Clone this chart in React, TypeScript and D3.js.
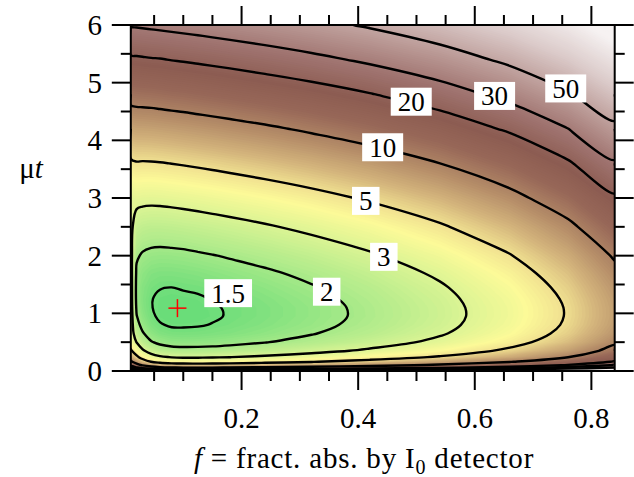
import React from 'react';
import * as d3 from 'd3';

// f = fraction absorbed by the I0 detector (grid columns)
const fValues = [0.01, 0.02, 0.03, 0.045, 0.06, 0.08, 0.1, 0.125, 0.15, 0.18, 0.24, 0.32, 0.42, 0.54, 0.66, 0.76, 0.84];

// mu*t of the sample (grid rows)
const mutValues = [0.01, 0.03, 0.06, 0.1, 0.16, 0.24, 0.35, 0.5, 0.65, 0.8, 0.95, 1.1, 1.25, 1.45, 1.7, 2.0, 2.5, 3.0, 3.6, 4.2, 4.8, 5.4, 6.0];

// relative noise, one row per mutValues entry
const noiseRows = [
  [166, 119, 91.7, 71.7, 63.1, 58.2, 56.3, 55.8, 56.2, 57.4, 61.1, 67.7, 79.0, 99.4, 134, 190, 285],
  [55.7, 40.0, 30.9, 24.2, 21.4, 19.7, 19.1, 19.0, 19.1, 19.5, 20.8, 23.0, 26.9, 33.8, 45.7, 64.7, 97.0],
  [28.1, 20.3, 15.7, 12.4, 10.9, 10.1, 9.82, 9.75, 9.83, 10.1, 10.7, 11.9, 13.9, 17.4, 23.6, 33.3, 50.0],
  [17.1, 12.4, 9.61, 7.62, 6.77, 6.28, 6.11, 6.07, 6.13, 6.27, 6.67, 7.40, 8.65, 10.9, 14.7, 20.8, 31.2],
  [10.9, 7.91, 6.21, 4.97, 4.43, 4.14, 4.03, 4.02, 4.06, 4.15, 4.42, 4.91, 5.74, 7.22, 9.76, 13.8, 20.7],
  [7.42, 5.46, 4.33, 3.50, 3.15, 2.96, 2.89, 2.89, 2.92, 2.99, 3.19, 3.54, 4.14, 5.21, 7.05, 9.98, 15.0],
  [5.28, 3.94, 3.16, 2.60, 2.36, 2.24, 2.20, 2.20, 2.23, 2.29, 2.44, 2.71, 3.17, 3.99, 5.39, 7.64, 11.5],
  [3.91, 2.97, 2.43, 2.04, 1.88, 1.79, 1.77, 1.78, 1.80, 1.85, 1.98, 2.20, 2.58, 3.24, 4.38, 6.21, 9.32],
  [3.60, 2.47, 2.06, 1.76, 1.64, 1.58, 1.57, 1.58, 1.61, 1.65, 1.77, 1.97, 2.30, 2.90, 3.92, 5.55, 8.33],
  [3.55, 2.19, 1.85, 1.62, 1.52, 1.47, 1.47, 1.48, 1.51, 1.56, 1.67, 1.86, 2.17, 2.74, 3.70, 5.24, 7.86],
  [3.50, 2.02, 1.74, 1.54, 1.46, 1.43, 1.43, 1.44, 1.47, 1.52, 1.63, 1.82, 2.12, 2.68, 3.62, 5.13, 7.69],
  [3.45, 1.92, 1.68, 1.51, 1.45, 1.42, 1.42, 1.44, 1.48, 1.52, 1.63, 1.82, 2.13, 2.69, 3.63, 5.14, 7.72],
  [3.42, 1.87, 1.66, 1.51, 1.46, 1.44, 1.45, 1.47, 1.51, 1.55, 1.67, 1.86, 2.18, 2.75, 3.71, 5.26, 7.89],
  [3.40, 1.86, 1.68, 1.56, 1.51, 1.50, 1.52, 1.54, 1.58, 1.63, 1.76, 1.96, 2.29, 2.89, 3.91, 5.54, 8.31],
  [3.35, 1.91, 1.76, 1.66, 1.63, 1.63, 1.65, 1.68, 1.73, 1.79, 1.92, 2.14, 2.51, 3.16, 4.28, 6.06, 9.10],
  [3.30, 2.07, 1.94, 1.87, 1.85, 1.86, 1.88, 1.93, 1.98, 2.05, 2.20, 2.46, 2.88, 3.63, 4.91, 6.96, 10.4],
  [3.25, 2.54, 2.45, 2.40, 2.40, 2.43, 2.47, 2.53, 2.60, 2.69, 2.90, 3.24, 3.80, 4.79, 6.48, 9.18, 13.8],
  [3.22, 3.33, 3.27, 3.25, 3.27, 3.32, 3.38, 3.47, 3.57, 3.70, 3.98, 4.45, 5.22, 6.58, 8.90, 12.6, 18.9],
  [4.73, 4.89, 4.86, 4.88, 4.93, 5.02, 5.12, 5.26, 5.41, 5.61, 6.05, 6.76, 7.92, 9.99, 13.5, 19.1, 28.7],
  [7.32, 7.50, 7.51, 7.57, 7.67, 7.82, 7.99, 8.21, 8.45, 8.76, 9.44, 10.6, 12.4, 15.6, 21.1, 29.9, 44.9],
  [11.6, 11.8, 11.9, 12.0, 12.2, 12.5, 12.7, 13.1, 13.5, 14.0, 15.1, 16.8, 19.7, 24.9, 33.7, 47.7, 71.5],
  [18.8, 19.0, 19.2, 19.5, 19.7, 20.2, 20.6, 21.2, 21.8, 22.6, 24.4, 27.3, 32.0, 40.3, 54.5, 77.2, 116],
  [30.8, 31.1, 31.4, 31.9, 32.4, 33.1, 33.8, 34.7, 35.8, 37.1, 40.0, 44.7, 52.4, 66.1, 89.4, 127, 190],
];

const contourLevels = [1.5, 2, 3, 5, 10, 20, 30, 50];

// where the level labels sit (data units)
const labelText = ['1.5', '2', '3', '5', '10', '20', '30', '50'];
const labelF = [0.177, 0.346, 0.444, 0.413, 0.442, 0.491, 0.634, 0.756];
const labelMut = [1.35, 1.375, 1.98, 2.95, 3.88, 4.67, 4.77, 4.9];

// optimum
const minF = 0.09;
const minMut = 1.09;

const xTickLabels = [0.2, 0.4, 0.6, 0.8];
const yTickLabels = [0, 1, 2, 3, 4, 5, 6];

// colour map along the noise value
const colorStopValues = [1.4, 1.75, 2.2, 3, 4, 5, 6.5, 9, 13, 18, 28, 45, 80, 150];
const colorStops = ['#64dc78', '#8ee482', '#b4ec8c', '#dcf494', '#fcfa98', '#f0e090', '#d4b47c', '#b48c68',
  '#986858', '#8c5c52', '#a07470', '#bc9c98', '#dccccb', '#f6f2f2'];

const font = "'Liberation Serif', 'Times New Roman', serif";

export default function App() {
  const width = 634;
  const height = 477;
  const left = 130.8, right = 614.7, top = 25, bottom = 371;

  const x = d3.scaleLinear().domain([0.01, 0.84]).range([left, right]);
  const y = d3.scaleLinear().domain([0, 6]).range([bottom, top]);

  const nx = fValues.length;
  const ny = mutValues.length;
  const logGrid = noiseRows.flat().map((v) => Math.log10(v));

  // grid index -> data value (uneven grid)
  const colAt = d3.scaleLinear().domain(d3.range(nx)).range(fValues).clamp(true);
  const rowAt = d3.scaleLinear().domain(d3.range(ny)).range(mutValues).clamp(true);
  const toPx = (p) => [x(colAt(p[0] - 0.5)), y(rowAt(p[1] - 0.5))];

  const projection = d3.geoTransform({
    point(gx, gy) {
      const q = toPx([gx, gy]);
      this.stream.point(q[0], q[1]);
    },
  });
  const geoPath = d3.geoPath(projection);

  const color = d3
    .scaleLinear()
    .domain(colorStopValues.map((v) => Math.log10(v)))
    .range(colorStops)
    .clamp(true);

  // background shading
  const lo = Math.log10(1.38);
  const hi = Math.log10(300);
  const steps = 180;
  const fillThresholds = d3.range(steps).map((i) => lo + ((hi - lo) * i) / steps);
  const bands = d3.contours().size([nx, ny]).thresholds(fillThresholds)(logGrid);
  const half = (hi - lo) / steps / 2;

  // contour lines, border runs removed
  const lines = d3.contours().size([nx, ny]).thresholds(contourLevels.map((v) => Math.log10(v)))(logGrid);
  const sameSide = (p, q) =>
    (p[0] <= 0 && q[0] <= 0) || (p[0] >= nx && q[0] >= nx) || (p[1] <= 0 && q[1] <= 0) || (p[1] >= ny && q[1] >= ny);

  const ringRuns = (ring) => {
    const n = ring.length - 1;
    const border = d3.range(n).map((i) => sameSide(ring[i], ring[i + 1]));
    if (!border.some(Boolean)) return [{ pts: ring.slice(0, n), closed: true }];
    const start = border.indexOf(true);
    const runs = [];
    let cur = null;
    for (let k = 1; k <= n; k++) {
      const i = (start + k) % n;
      if (border[i]) {
        if (cur) runs.push(cur);
        cur = null;
        continue;
      }
      if (!cur) cur = [ring[i]];
      cur.push(ring[i + 1]);
    }
    if (cur) runs.push(cur);
    return runs.map((pts) => ({ pts, closed: false }));
  };

  const openLine = d3.line().curve(d3.curveCatmullRom.alpha(0.5));
  const closedLine = d3.line().curve(d3.curveCatmullRomClosed.alpha(0.5));

  const linePaths = [];
  lines.forEach((mp) => {
    mp.coordinates.forEach((poly) => {
      poly.forEach((ring) => {
        ringRuns(ring).forEach((run) => {
          const pts = [];
          run.pts.map(toPx).forEach((p) => {
            const last = pts[pts.length - 1];
            if (!last || Math.hypot(p[0] - last[0], p[1] - last[1]) > 0.3) pts.push(p);
          });
          if (pts.length < 2) return;
          linePaths.push(run.closed ? closedLine(pts) : openLine(pts));
        });
      });
    });
  });

  const minorX = d3.range(0.05, 0.8001, 0.05);
  const minorY = d3.range(0, 6.001, 0.5);
  const isMajor = (v, step) => Math.abs(v / step - Math.round(v / step)) < 1e-6;

  return (
    <svg width={width} height={height} style={{ position: 'absolute', left: 0, top: 0, background: '#fff' }}>
      <defs>
        <clipPath id='plot-clip'>
          <rect x={left} y={top} width={right - left} height={bottom - top} />
        </clipPath>
      </defs>

      <g clipPath='url(#plot-clip)'>
        <rect x={left} y={top} width={right - left} height={bottom - top} fill={color(lo)} />
        {bands.map((b, i) => (
          <path key={i} d={geoPath(b)} fill={color(b.value + half)} stroke='none' />
        ))}
        {linePaths.map((d, i) => (
          <path key={i} d={d} fill='none' stroke='#000' strokeWidth={2.4} strokeLinejoin='round' />
        ))}
      </g>

      {labelText.map((t, i) => {
        const w = t.length * 13.5 - (t.includes('.') ? 6.75 : 0) + 14;
        const cx = x(labelF[i]);
        const cy = y(labelMut[i]);
        return (
          <g key={t}>
            <rect x={cx - w / 2} y={cy - 14} width={w} height={28} fill='#fff' />
            <text x={cx} y={cy + 9.5} textAnchor='middle' fontFamily={font} fontSize={27} fill='#000'>
              {t}
            </text>
          </g>
        );
      })}

      <g stroke='#ff0000' strokeWidth={1.5}>
        <line x1={x(minF) - 9} x2={x(minF) + 9} y1={y(minMut)} y2={y(minMut)} />
        <line x1={x(minF)} x2={x(minF)} y1={y(minMut) - 9} y2={y(minMut) + 9} />
      </g>

      <rect x={left} y={top} width={right - left} height={bottom - top} fill='none' stroke='#000' strokeWidth={2} />

      <g stroke='#000' strokeWidth={2}>
        {minorX.map((v) => {
          const len = isMajor(v, 0.2) ? 19 : 10;
          return (
            <g key={'x' + v}>
              <line x1={x(v)} x2={x(v)} y1={bottom} y2={bottom + len} />
              <line x1={x(v)} x2={x(v)} y1={top} y2={top - len} />
            </g>
          );
        })}
        {minorY.map((v) => {
          const len = isMajor(v, 1) ? 19 : 10;
          return (
            <g key={'y' + v}>
              <line x1={left} x2={left - len} y1={y(v)} y2={y(v)} />
              <line x1={right} x2={right + len} y1={y(v)} y2={y(v)} />
            </g>
          );
        })}
      </g>

      {xTickLabels.map((v) => (
        <text key={v} x={x(v)} y={428} textAnchor='middle' fontFamily={font} fontSize={29} fill='#000'>
          {d3.format('.1f')(v)}
        </text>
      ))}
      {yTickLabels.map((v) => (
        <text key={v} x={102} y={y(v) + 10} textAnchor='end' fontFamily={font} fontSize={29} fill='#000'>
          {v}
        </text>
      ))}

      <text x={31} y={178} textAnchor='middle' fontFamily={font} fontSize={29} fill='#000'>
        μ<tspan fontStyle='italic'>t</tspan>
      </text>
      <text x={364} y={468} textAnchor='middle' fontFamily={font} fontSize={29} letterSpacing={0.8} fill='#000'>
        <tspan fontStyle='italic'>f</tspan> = fract. abs. by I
        <tspan dy={6} fontSize={20}>0</tspan>
        <tspan dy={-6}> detector</tspan>
      </text>
    </svg>
  );
}
